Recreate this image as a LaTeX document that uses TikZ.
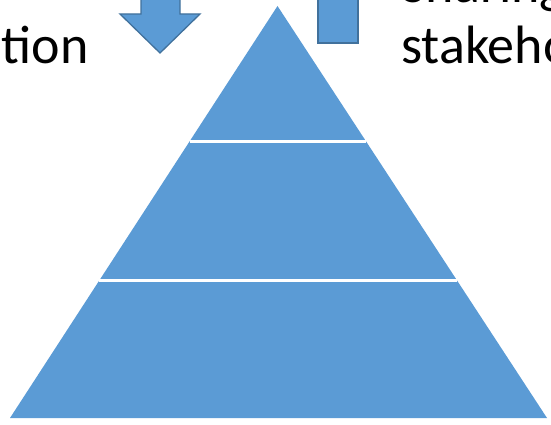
\documentclass[tikz,border=0pt]{standalone}
\usepackage{fontspec}
\setmainfont{Carlito}
\usetikzlibrary{calc}
\definecolor{pyrblue}{HTML}{5B9BD5}
\definecolor{arrowedge}{HTML}{41719C}
\begin{document}
\begin{tikzpicture}[x=1pt,y=-1pt,
  lbl/.style={inner sep=0pt,font=\fontsize{54}{61}\selectfont,text=black},
  shapefill/.style={fill=pyrblue,draw=arrowedge,line width=1.3pt,line join=miter},
  divider/.style={draw=white,line width=2.8pt}]
\useasboundingbox (0,0) rectangle (551,425);
\clip (0,0) rectangle (551,425);
% pyramid
\coordinate (apex) at (277.5,6);
\coordinate (bl) at (10,418);
\coordinate (br) at (547,418);
\fill[pyrblue] (apex) -- (br) -- (bl) -- cycle;
\coordinate (d1l) at ($(apex)!0.3285!(bl)$);
\coordinate (d1r) at ($(apex)!0.3285!(br)$);
\coordinate (d2l) at ($(apex)!0.6667!(bl)$);
\coordinate (d2r) at ($(apex)!0.6667!(br)$);
\draw[divider] (d1l) -- (d1r);
\draw[divider] (d2l) -- (d2r);
% down arrow
\draw[shapefill] (141,-5) -- (180,-5) -- (180,14) -- (200,14) -- (160,53) -- (120,14) -- (141,14) -- cycle;
% up arrow shaft (cut off)
\draw[shapefill] (318,-5) rectangle (358,43);
% texts
\node[lbl,anchor=base east] (lefttext) at (89,64) {tion};
\node[lbl,anchor=base west] (topline) at (401,3) {Sharing};
\node[lbl,anchor=base west] (stake) at (401,64) {stakeholders};
\end{tikzpicture}
\end{document}
